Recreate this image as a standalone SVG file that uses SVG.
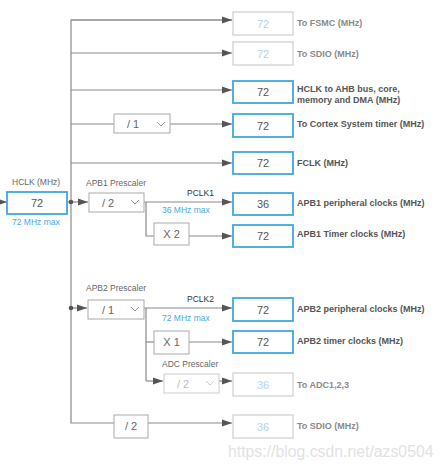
<svg xmlns="http://www.w3.org/2000/svg" width="443" height="469" viewBox="0 0 443 469">
<defs>
<marker id="ah" markerUnits="userSpaceOnUse" markerWidth="11" markerHeight="8" refX="10" refY="4" orient="auto">
<path d="M0,0.5 L10,4 L0,7.5 z" fill="#555"/>
</marker>
<style>
text{font-family:"Liberation Sans",Arial,sans-serif}
.w{stroke:#8a8a8a;stroke-width:1.2;fill:none}
.a{marker-end:url(#ah)}
.box{fill:#fff;stroke:#3ea8df;stroke-width:1.8}
.dis{fill:#fff;stroke:#c4c4c4;stroke-width:1}
.pre{fill:#fff;stroke:#a9a9a9;stroke-width:1}
.pred{fill:#fff;stroke:#cccccc;stroke-width:1}
.num{font-size:11px;fill:#555;text-anchor:middle}
.numd{font-size:11px;fill:#b3d2ee;text-anchor:middle}
.lab{font-size:9px;font-weight:bold;fill:#555}
.labd{font-size:9px;font-weight:bold;fill:#8a8a8a}
.ptx{font-size:11px;fill:#666}
.ptxd{font-size:11px;fill:#bbb}
.sm{font-size:8.5px;fill:#666}
.blue{font-size:8.5px;fill:#4aa8e0}
.pclk{font-size:8.5px;fill:#333}
.chev{fill:none;stroke:#9a9a9a;stroke-width:1}
.chevd{fill:none;stroke:#cfcfcf;stroke-width:1}
</style>
</defs>

<g id="connectors">
<polyline class="w" points="232,20 71,20 71,423 114,423"/>
<line class="w a" x1="71" y1="20" x2="232" y2="20"/>
<line class="w a" x1="71" y1="53" x2="232" y2="53"/>
<line class="w a" x1="71" y1="90" x2="232" y2="90"/>
<line class="w" x1="71" y1="124" x2="114" y2="124"/>
<line class="w a" x1="170" y1="124" x2="232" y2="124"/>
<line class="w a" x1="71" y1="163" x2="232" y2="163"/>
<line class="w a" x1="0" y1="202" x2="7" y2="202"/>
<line class="w" x1="67" y1="202" x2="71" y2="202"/>
<line class="w a" x1="71" y1="202" x2="88" y2="202"/>
<circle cx="71" cy="202" r="2.3" fill="#555"/>
<line class="w a" x1="144" y1="202" x2="232" y2="202"/>
<polyline class="w" points="146,202 146,236 154,236"/>
<line class="w a" x1="189" y1="236" x2="232" y2="236"/>
<line class="w a" x1="71" y1="308" x2="87" y2="308"/>
<circle cx="71" cy="308" r="2.3" fill="#555"/>
<line class="w a" x1="144" y1="308" x2="232" y2="308"/>
<polyline class="w" points="146,308 146,381"/>
<line class="w" x1="146" y1="342" x2="154" y2="342"/>
<line class="w a" x1="189" y1="342" x2="232" y2="342"/>
<line class="w a" x1="146" y1="381" x2="163" y2="381"/>
<line class="w a" x1="219" y1="381" x2="232" y2="381"/>
<line class="w a" x1="148" y1="423" x2="232" y2="423"/>
</g>

<g id="hclk">
<text class="sm" x="12" y="185">HCLK (MHz)</text>
<rect class="box" x="7" y="192" width="60" height="22"/>
<text class="num" x="37" y="207">72</text>
<text class="blue" x="12" y="225">72 MHz max</text>
</g>

<g id="fsmc">
<rect class="dis" x="233" y="12" width="60" height="23"/>
<text class="numd" x="263" y="27.5">72</text>
<text class="labd" x="297" y="26">To FSMC (MHz)</text>
</g>

<g id="sdio1">
<rect class="dis" x="233" y="42" width="60" height="23"/>
<text class="numd" x="263" y="57.5">72</text>
<text class="labd" x="297" y="57">To SDIO (MHz)</text>
</g>

<g id="ahb">
<rect class="box" x="233" y="81" width="60" height="22"/>
<text class="num" x="263" y="96">72</text>
<text class="lab" x="297" y="92">HCLK to AHB bus, core,</text>
<text class="lab" x="297" y="103">memory and DMA (MHz)</text>
</g>

<g id="cortex-pre">
<rect class="pre" x="114" y="114" width="56" height="19"/>
<text class="ptx" x="127" y="128">/ 1</text>
<polyline class="chev" points="157,122 161,126 165,122"/>
</g>

<g id="cortex">
<rect class="box" x="233" y="114" width="60" height="23"/>
<text class="num" x="263" y="129.5">72</text>
<text class="lab" x="297" y="127">To Cortex System timer (MHz)</text>
</g>

<g id="fclk">
<rect class="box" x="233" y="152" width="60" height="22"/>
<text class="num" x="263" y="167">72</text>
<text class="lab" x="297" y="166">FCLK (MHz)</text>
</g>

<g id="apb1-pre">
<text class="sm" x="86" y="186">APB1 Prescaler</text>
<rect class="pre" x="89" y="193" width="55" height="19"/>
<text class="ptx" x="102" y="207">/ 2</text>
<polyline class="chev" points="131,200 135,204 139,200"/>
<text class="pclk" x="187" y="196">PCLK1</text>
<text class="blue" x="162" y="213">36 MHz max</text>
</g>

<g id="apb1-x2">
<rect class="pre" x="154" y="223" width="35" height="22"/>
<text class="ptx" x="171.5" y="238" text-anchor="middle">X 2</text>
</g>

<g id="apb1-periph">
<rect class="box" x="233" y="193" width="60" height="22"/>
<text class="num" x="263" y="208">36</text>
<text class="lab" x="297" y="206">APB1 peripheral clocks (MHz)</text>
</g>

<g id="apb1-timer">
<rect class="box" x="233" y="225" width="60" height="22"/>
<text class="num" x="263" y="240">72</text>
<text class="lab" x="297" y="237">APB1 Timer clocks (MHz)</text>
</g>

<g id="apb2-pre">
<text class="sm" x="86" y="291">APB2 Prescaler</text>
<rect class="pre" x="88" y="300" width="56" height="19"/>
<text class="ptx" x="102" y="314">/ 1</text>
<polyline class="chev" points="131,307 135,311 139,307"/>
<text class="pclk" x="187" y="302">PCLK2</text>
<text class="blue" x="162" y="321">72 MHz max</text>
</g>

<g id="apb2-x1">
<rect class="pre" x="154" y="331" width="35" height="23"/>
<text class="ptx" x="171.5" y="346" text-anchor="middle">X 1</text>
</g>

<g id="apb2-periph">
<rect class="box" x="233" y="298" width="60" height="23"/>
<text class="num" x="263" y="313.5">72</text>
<text class="lab" x="297" y="312">APB2 peripheral clocks (MHz)</text>
</g>

<g id="apb2-timer">
<rect class="box" x="233" y="331" width="60" height="22"/>
<text class="num" x="263" y="346">72</text>
<text class="lab" x="297" y="344">APB2 timer clocks (MHz)</text>
</g>

<g id="adc-pre">
<text class="sm" x="162" y="367">ADC Prescaler</text>
<rect class="pred" x="164" y="374" width="55" height="19"/>
<text class="ptxd" x="177" y="388">/ 2</text>
<polyline class="chevd" points="206,381 210,385 214,381"/>
</g>

<g id="adc">
<rect class="dis" x="233" y="373" width="60" height="23"/>
<text class="numd" x="263" y="388.5">36</text>
<text class="labd" x="297" y="388">To ADC1,2,3</text>
</g>

<g id="sdio2-pre">
<rect class="pre" x="114" y="415" width="34" height="23"/>
<text class="ptx" x="131" y="430" text-anchor="middle">/ 2</text>
</g>

<g id="sdio2">
<rect class="dis" x="233" y="415" width="60" height="23"/>
<text class="numd" x="263" y="430.5">36</text>
<text class="labd" x="297" y="429">To SDIO (MHz)</text>
</g>

<text x="228" y="457" font-size="15.8" fill="#e2e2e2">https://blog.csdn.net/azs0504</text>
</svg>
